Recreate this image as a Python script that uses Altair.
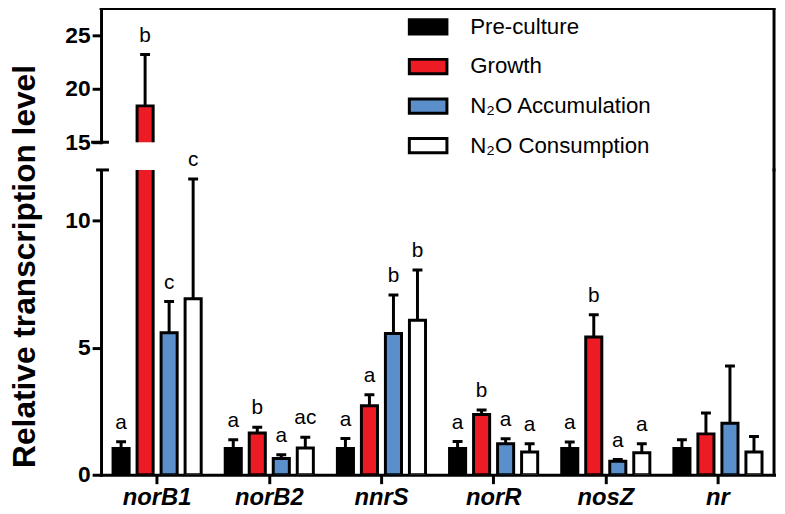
import altair as alt
import pandas as pd

# ---- data ----
genes = ["norB1", "norB2", "nnrS", "norR", "nosZ", "nr"]
conditions = ["Pre-culture", "Growth", "N₂O Accumulation", "N₂O Consumption"]
colors = ["#000000", "#ED1C24", "#5B8FCC", "#FFFFFF"]

pre_mean = [1.03, 1.03, 1.03, 1.03, 1.03, 1.03]
pre_err = [0.27, 0.35, 0.40, 0.28, 0.26, 0.35]
pre_lab = ["a", "a", "a", "a", "a", ""]

growth_mean = [18.4, 1.64, 2.72, 2.37, 5.42, 1.61]
growth_err = [4.8, 0.23, 0.43, 0.18, 0.88, 0.82]
growth_lab = ["b", "b", "a", "b", "b", ""]

acc_mean = [5.59, 0.64, 5.56, 1.22, 0.53, 2.03]
acc_err = [1.23, 0.15, 1.52, 0.20, 0.07, 2.25]
acc_lab = ["c", "a", "b", "a", "a", ""]

cons_mean = [6.93, 1.05, 6.08, 0.90, 0.87, 0.90]
cons_err = [4.71, 0.43, 1.98, 0.32, 0.35, 0.61]
cons_lab = ["c", "ac", "b", "a", "a", ""]

upper_ticks = [15, 20, 25]
lower_ticks = [0, 5, 10]

rows = []
for cond, means, errs, labs in zip(
    conditions,
    [pre_mean, growth_mean, acc_mean, cons_mean],
    [pre_err, growth_err, acc_err, cons_err],
    [pre_lab, growth_lab, acc_lab, cons_lab],
):
    for g, m, e, l in zip(genes, means, errs, labs):
        rows.append({"gene": g, "condition": cond, "mean": m, "top": m + e, "label": l})
df = pd.DataFrame(rows)
one = pd.DataFrame({"k": [0]})

FONT = "Liberation Sans"
W = 680
H_UP = 135
H_LO = 308
GAP = 28
UP_DOMAIN = [15, 27.5]
LO_DOMAIN = [0, 12]

legend = alt.Legend(
    title=None,
    orient="none",
    legendX=310,
    legendY=-2,
    symbolType="M-1,-0.38L1,-0.38L1,0.38L-1,0.38Z",
    symbolSize=1444,
    symbolStrokeColor="black",
    symbolStrokeWidth=3,
    symbolOpacity=1,
    labelFont=FONT,
    labelFontSize=22.5,
    labelColor="black",
    labelOffset=22,
    labelLimit=400,
    rowPadding=6,
)

xo = alt.XOffset("condition:N", sort=conditions,
                 scale=alt.Scale(paddingInner=0.33, paddingOuter=0.5))
fill = alt.Fill("condition:N", sort=conditions,
                scale=alt.Scale(domain=conditions, range=colors), legend=legend)


def panel(domain, height, ticks, upper):
    ys = alt.Scale(domain=domain, nice=False, zero=False)
    if upper:
        xaxis = None
        yaxis = alt.Axis(values=ticks, title=None)
    else:
        xaxis = alt.Axis(title=None, labelAngle=0, labelFontStyle="italic",
                         labelFontWeight="bold", labelFontSize=24, tickSize=9,
                         labelPadding=2)
        yaxis = alt.Axis(values=ticks, title="Relative transcription level",
                         titleFontSize=32, titleFontWeight="bold", titleFont=FONT,
                         titleAngle=270, titleAlign="center", titleBaseline="bottom",
                         titleX=-60, titleY=97, titleColor="black")
    x = alt.X("gene:N", sort=genes, scale=alt.Scale(paddingInner=0, paddingOuter=0),
              axis=xaxis)
    base = alt.Chart(df)
    bars = base.mark_bar(stroke="black", strokeWidth=3, clip=True).encode(
        x=x, xOffset=xo, y=alt.Y("mean:Q", scale=ys, axis=yaxis), y2=alt.datum(0),
        fill=fill)
    err = base.mark_rule(color="black", strokeWidth=3, clip=True).encode(
        x=x, xOffset=xo, y=alt.Y("mean:Q", scale=ys), y2="top:Q")
    cap = base.mark_tick(color="black", thickness=3, size=10, clip=True,
                         orient="horizontal", opacity=1).encode(
        x=x, xOffset=xo, y=alt.Y("top:Q", scale=ys))
    filt = "datum.top > 15" if upper else "datum.top < 12"
    txt = base.transform_filter(filt).mark_text(
        font=FONT, fontSize=21, color="black", baseline="alphabetic", dy=-13).encode(
        x=x, xOffset=xo, y=alt.Y("top:Q", scale=ys), text="label:N")
    layers = [bars, err, cap, txt]
    fr = alt.Chart(one)
    if upper:
        layers += [
            fr.mark_rule(color="black", strokeWidth=3, strokeCap="square").encode(
                x=alt.value(0), x2=alt.value(W), y=alt.value(0)),
            fr.mark_rule(color="black", strokeWidth=3, strokeCap="square").encode(
                x=alt.value(W), y=alt.value(0), y2=alt.value(height + GAP)),
            fr.mark_rule(color="black", strokeWidth=3).encode(
                x=alt.value(-10), x2=alt.value(8), y=alt.value(height)),
        ]
    else:
        layers += [
            fr.mark_rule(color="black", strokeWidth=3, strokeCap="square").encode(
                x=alt.value(W), y=alt.value(0), y2=alt.value(height)),
            fr.mark_rule(color="black", strokeWidth=3).encode(
                x=alt.value(-5), x2=alt.value(8), y=alt.value(0)),
        ]
    return alt.layer(*layers).properties(width=W, height=height)


upper = panel(UP_DOMAIN, H_UP, upper_ticks, True)
lower = panel(LO_DOMAIN, H_LO, lower_ticks, False)

chart = alt.vconcat(upper, lower, spacing=GAP, bounds="flush").properties(
    padding={"left": 0, "top": -5, "right": 0, "bottom": 0}
).configure(font=FONT).configure_view(stroke=None).configure_axis(
    domainColor="black", domainWidth=3, domainCap="square",
    tickColor="black", tickWidth=3, tickSize=9,
    labelFont=FONT, labelFontSize=23, labelFontWeight="bold", labelColor="black",
    labelPadding=2, grid=False,
)

chart.save("out.html", embed_options={"renderer": "svg", "actions": False})
